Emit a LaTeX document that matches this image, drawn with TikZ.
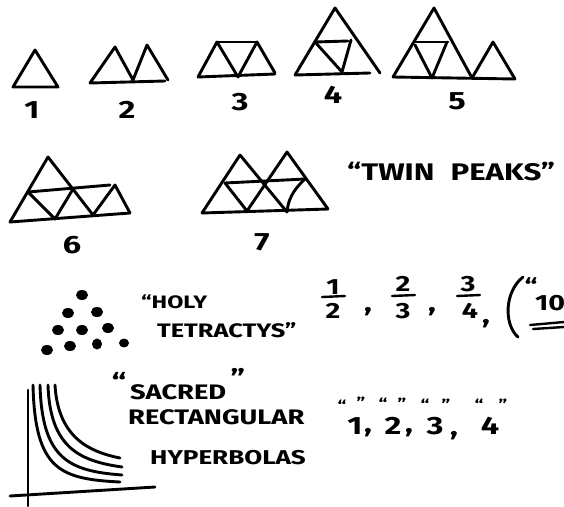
\documentclass[tikz,border=0pt]{standalone}
\usepackage{fontspec}
\setmainfont{Fira Sans}
\newfontfamily\hand[FakeStretch=1.3]{Fira Sans}
\begin{document}
\begin{tikzpicture}[x=1pt,y=-1pt,
  ink/.style={draw=black, line width=2.9pt, line cap=round, line join=round},
  thin ink/.style={draw=black, line width=2.4pt, line cap=round, line join=round},
  dot/.style={fill=black},
  numlbl/.style={font=\hand\bfseries\fontsize{25}{28}\selectfont, inner sep=0pt},
  qmark/.style={font=\hand\bfseries\fontsize{15}{16}\selectfont, inner sep=0pt},
  word/.style={font=\hand\bfseries\fontsize{21}{24}\selectfont, inner sep=0pt, anchor=west},
  fracdig/.style={font=\hand\bfseries\fontsize{22}{24}\selectfont, inner sep=0pt}]
\useasboundingbox (0,0) rectangle (564,506);
\clip (0,0) rectangle (564,506);

% ---------- figure 1
\draw[ink] (13,87) -- (35,50) -- (58,87) -- cycle;
\node[numlbl] (l1) at (32,110) {1};
% ---------- figure 2
\draw[ink] (90,83) -- (115,47) -- (133,80) -- (147,45) -- (168,80);
\draw[ink] (90,83) -- (165,81);
\node[numlbl] (l2) at (127,110) {2};
% ---------- figure 3
\draw[ink] (198,77) -- (217,42) -- (238,77) -- (257,42) -- (275,73);
\draw[ink] (217,42) -- (257,42);
\draw[ink] (198,77) -- (275,74);
\node[numlbl] (l3) at (240,102) {3};
% ---------- figure 4
\draw[ink] (295,75) -- (335,8) -- (380,73);
\draw[ink] (315,42) -- (348,41);
\draw[ink] (315,42) -- (342,72) -- (351,40);
\draw[ink] (295,75) -- (370,73);
\node[numlbl] (l4) at (333,95) {4};
% ---------- figure 5
\draw[ink] (393,77) -- (434,8) -- (472,78) -- (493,42) -- (515,79);
\draw[ink] (415,42) -- (448,42);
\draw[ink] (415,45) -- (432,78) -- (447,42);
\draw[ink] (393,77) -- (515,79);
\node[numlbl] (l5) at (457,101) {5};
% ---------- figure 6
\draw[ink] (10,222) -- (48,157) -- (93,215) -- (115,185) -- (130,213);
\draw[ink] (10,222) -- (130,213);
\draw[ink] (28,192) -- (110,185);
\draw[ink] (28,192) -- (55,219) -- (73,189);
\node[numlbl] (l6) at (72,245) {6};
% ---------- figure 7
\draw[ink] (202,213) -- (240,155) -- (287,212);
\draw[ink] (247,211) -- (287,152) -- (328,209);
\draw[ink] (202,213) -- (328,209);
\draw[ink] (225,183) -- (305,179);
\draw[ink] (225,183) -- (247,211);
\draw[ink] (305,179) .. controls (293,190) and (288,200) .. (287,212);
\node[numlbl] (l7) at (262,242) {7};
% ---------- twin peaks
\node[word, font=\hand\bfseries\fontsize{24}{26}\selectfont] (twin) at (347,172) {“TWIN\hspace{16pt}PEAKS”};

% ---------- tetractys
\fill[dot] (82,295) ellipse [x radius=6, y radius=5];
\fill[dot] (68,313) ellipse [x radius=6, y radius=5];
\fill[dot] (97,312) ellipse [x radius=6, y radius=5];
\fill[dot] (58,330) ellipse [x radius=6, y radius=5];
\fill[dot] (82,330) ellipse [x radius=6, y radius=5];
\fill[dot] (108,328) ellipse [x radius=6, y radius=5];
\fill[dot] (47,350) ellipse [x radius=6, y radius=5];
\fill[dot] (70,346) ellipse [x radius=6, y radius=5];
\fill[dot] (97,344) ellipse [x radius=5, y radius=5.5];
\fill[dot] (124,343) ellipse [x radius=5, y radius=4.5];
\node[word, font=\hand\bfseries\fontsize{18}{20}\selectfont] (holy) at (141,302) {“HOLY};
\node[word, font=\hand\bfseries\fontsize{19.5}{22}\selectfont] (tetr) at (157,330) {TETRACTYS”};

% ---------- fractions
\node[fracdig] (n1) at (333,287) {1};
\draw[thin ink] (322,297) -- (345,296);
\node[fracdig] (d1) at (333,311) {2};
\node[numlbl] (c1) at (368,312) {,};
\node[fracdig] (n2) at (403,284) {2};
\draw[thin ink] (392,296) -- (415,295);
\node[fracdig] (d2) at (403,311) {3};
\node[numlbl] (c2) at (432,312) {,};
\node[fracdig] (n3) at (468,284) {3};
\draw[thin ink] (457,296) -- (480,295);
\node[fracdig] (d3) at (470,311) {4};
\node[numlbl] (c3) at (486,324) {,};
\draw[ink] (523,277) .. controls (504,292) and (504,325) .. (518,337);
\node[fracdig] (q10) at (531,286) {“};
\node[fracdig, anchor=west] (ten) at (535,303) {10};
\draw[thin ink] (530,325) -- (564,322);
\draw[thin ink] (533,329) -- (564,327);

% ---------- hyperbolas
\draw[ink] (28,390) -- (28,506);
\draw[ink] (10,496) -- (155,487);
\draw[ink] (33,385) .. controls (35,470) and (60,479) .. (120,482);
\draw[ink] (40,385) .. controls (42,460) and (70,471) .. (122,475);
\draw[ink] (48,385) .. controls (50,448) and (80,461) .. (122,467);
\draw[ink] (55,385) .. controls (58,438) and (90,452) .. (120,458);
\node[numlbl] (qs1) at (119,382) {“};
\node[word] (sacred) at (130,392) {SACRED};
\node[numlbl] (qs2) at (238,378) {”};
\node[word] (rect) at (128,417) {RECTANGULAR};
\node[word, font=\hand\bfseries\fontsize{20}{22}\selectfont] (hyp) at (150,458) {HYPERBOLAS};

% ---------- 1,2,3,4
\node[numlbl] (h1) at (355,426) {1};
\node[qmark] (h1a) at (342,406) {“};
\node[qmark] (h1b) at (361,403) {”};
\node[numlbl] (hc1) at (368,433) {,};
\node[numlbl] (h2) at (393,426) {2};
\node[qmark] (h2a) at (383,404) {“};
\node[qmark] (h2b) at (402,404) {”};
\node[numlbl] (hc2) at (409,433) {,};
\node[numlbl] (h3) at (435,426) {3};
\node[qmark] (h3a) at (425,405) {“};
\node[qmark] (h3b) at (446,405) {”};
\node[numlbl] (hc3) at (454,436) {,};
\node[numlbl] (h4) at (490,426) {4};
\node[qmark] (h4a) at (479,405) {“};
\node[qmark] (h4b) at (503,405) {”};
\end{tikzpicture}
\end{document}
